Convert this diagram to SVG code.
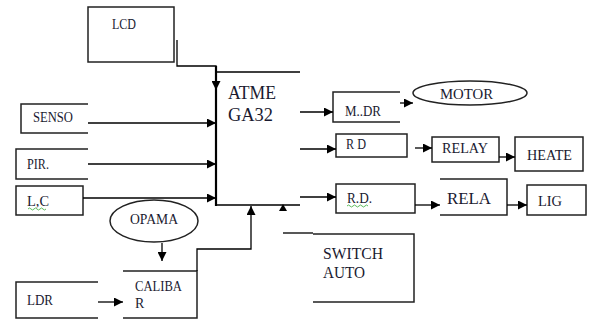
<svg xmlns="http://www.w3.org/2000/svg" width="589" height="322" viewBox="0 0 589 322" font-family="'Liberation Serif', 'DejaVu Serif', serif">
<defs>
<style>
.b{fill:none;stroke:#222;stroke-width:1.5}
.l{fill:none;stroke:#000;stroke-width:1.3}
.t{font-size:14px;fill:#1a1a30;font-family:'Liberation Serif', 'DejaVu Serif', serif}
.sq{fill:none;stroke:#3a3;stroke-width:0.8}
</style>
<marker id="a" viewBox="0 0 10 10" refX="10" refY="5" markerWidth="9" markerHeight="9" orient="auto" markerUnits="userSpaceOnUse"><path d="M0,0L10,5L0,10z" fill="#000"/></marker>
</defs>
<rect width="589" height="322" fill="#fff"/>
<g id="lcd"><rect class="b" x="88" y="7" width="86" height="55"/><text class="t" x="112" y="29" textLength="24" lengthAdjust="spacingAndGlyphs">LCD</text></g>
<g id="atmega"><path d="M216,66V206" fill="none" stroke="#000" stroke-width="2.2"/><path class="l" d="M216,72H300M216,205H300"/><text class="t" x="228" y="99" font-size="19" style="font-size:19px" textLength="48" lengthAdjust="spacingAndGlyphs">ATME</text><text class="t" x="228" y="121" style="font-size:19px" textLength="45" lengthAdjust="spacingAndGlyphs">GA32</text></g>
<g id="senso"><path class="b" d="M88,104H21V133H88"/><text class="t" x="33" y="122" textLength="40" lengthAdjust="spacingAndGlyphs">SENSO</text></g>
<g id="pir"><path class="b" d="M88,149H16V179H88"/><text class="t" x="27" y="169" textLength="22" lengthAdjust="spacingAndGlyphs">PIR.</text></g>
<g id="lc"><rect class="b" x="16" y="186" width="67" height="29"/><text class="t" x="27" y="206" textLength="22" lengthAdjust="spacingAndGlyphs">L,C</text><path class="sq" d="M28,209q1.5,-2 3,0t3,0t3,0t3,0t3,0t3,0"/></g>
<g id="opama"><ellipse class="b" cx="154" cy="221" rx="44" ry="21" stroke-width="1.2"/><text class="t" x="130" y="224" textLength="48" lengthAdjust="spacingAndGlyphs">OPAMA</text></g>
<g id="caliba"><path class="b" d="M123,271H197V318H123"/><text class="t" x="135" y="291" textLength="47" lengthAdjust="spacingAndGlyphs">CALIBA</text><text class="t" x="135" y="308">R</text></g>
<g id="ldr"><path class="b" d="M98,282H16V318H98"/><text class="t" x="27" y="305" textLength="26" lengthAdjust="spacingAndGlyphs">LDR</text></g>
<g id="switch"><path class="b" d="M283,233H313M313,234H414V302H313"/><text class="t" x="323" y="259" style="font-size:16px" textLength="60" lengthAdjust="spacingAndGlyphs">SWITCH</text><text class="t" x="323" y="278" style="font-size:16px" textLength="42" lengthAdjust="spacingAndGlyphs">AUTO</text></g>
<g id="mdr"><path class="b" d="M400,92H333V122H400"/><text class="t" x="345" y="116" textLength="36" lengthAdjust="spacingAndGlyphs">M..DR</text></g>
<g id="motor"><ellipse class="b" cx="470" cy="93" rx="57" ry="12" stroke-width="1.2"/><text class="t" x="440" y="99" style="font-size:15px" textLength="53" lengthAdjust="spacingAndGlyphs">MOTOR</text></g>
<g id="rd1"><rect class="b" x="336" y="134" width="71" height="23"/><text class="t" x="346" y="149" textLength="20" lengthAdjust="spacingAndGlyphs">R D</text></g>
<g id="relay"><rect class="b" x="432" y="137" width="67" height="25"/><text class="t" x="442" y="153" textLength="46" lengthAdjust="spacingAndGlyphs">RELAY</text></g>
<g id="heate"><rect class="b" x="515" y="137" width="68" height="34"/><text class="t" x="527" y="160" textLength="45" lengthAdjust="spacingAndGlyphs">HEATE</text></g>
<g id="rd2"><rect class="b" x="336" y="184" width="79" height="29"/><text class="t" x="347" y="203" textLength="25" lengthAdjust="spacingAndGlyphs">R.D.</text><path class="sq" d="M347,206q1.5,-2 3,0t3,0t3,0t3,0t3,0t3,0t3,0"/></g>
<g id="rela"><path class="b" d="M440,179H507V215H440"/><text class="t" x="447" y="204" style="font-size:17px" textLength="44" lengthAdjust="spacingAndGlyphs">RELA</text></g>
<g id="lig"><rect class="b" x="527" y="185" width="59" height="30"/><text class="t" x="538" y="206" textLength="24" lengthAdjust="spacingAndGlyphs">LIG</text></g>
<g id="connectors">
<path class="l" d="M177,40V66H216V90" marker-end="url(#a)"/>
<path class="l" d="M88,123H216" marker-end="url(#a)"/>
<path class="l" d="M88,164H216" marker-end="url(#a)"/>
<path class="l" d="M83,198H216" marker-end="url(#a)"/>
<path class="l" d="M162,243V261" marker-end="url(#a)"/>
<path class="l" d="M98,302H123" marker-end="url(#a)"/>
<path class="l" d="M197,271V249H251V206" marker-end="url(#a)"/>
<path d="M279,211L283,204L287,211z" fill="#000"/>
<path class="l" d="M300,112H333" marker-end="url(#a)"/>
<path class="l" d="M400,103H413" marker-end="url(#a)"/>
<path class="l" d="M300,149H336" marker-end="url(#a)"/>
<path class="l" d="M415,148H432" marker-end="url(#a)"/>
<path class="l" d="M499,157H515" marker-end="url(#a)"/>
<path class="l" d="M300,197H336" marker-end="url(#a)"/>
<path class="l" d="M415,205H440" marker-end="url(#a)"/>
<path class="l" d="M507,205H527" marker-end="url(#a)"/>
</g>
</svg>
